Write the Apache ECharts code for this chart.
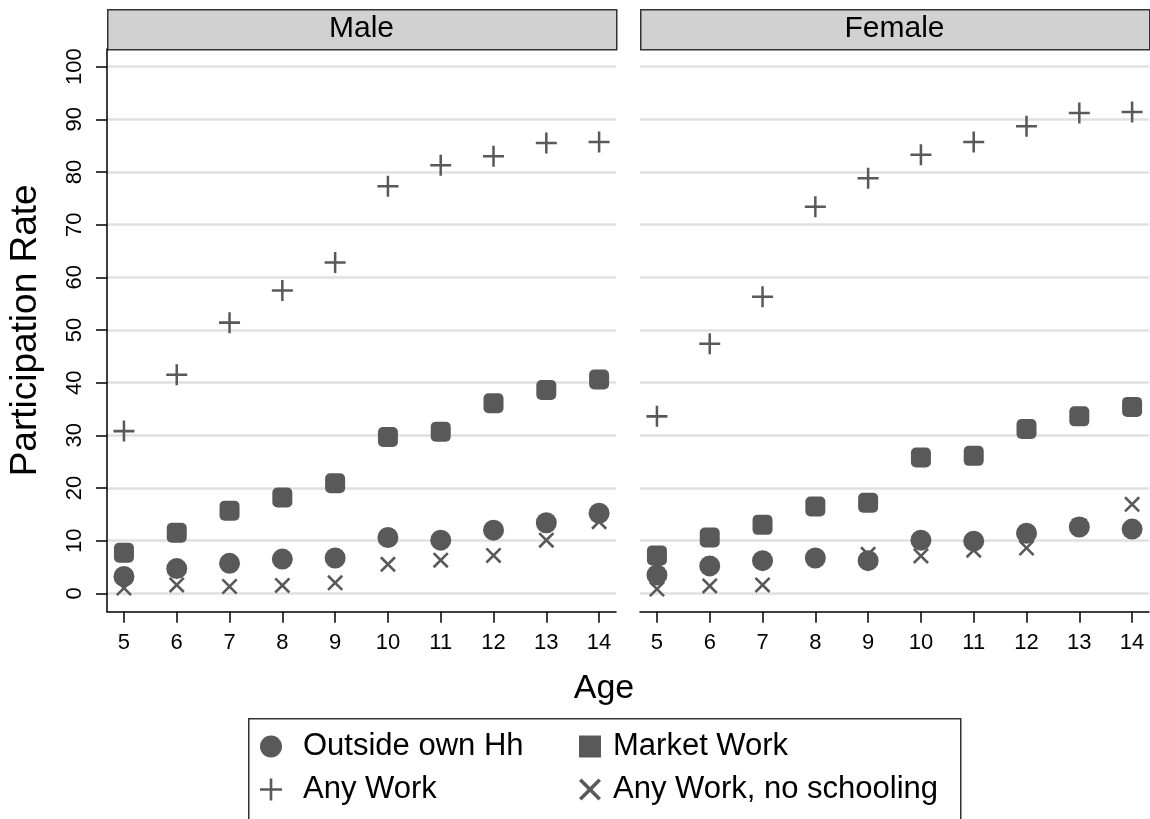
<!DOCTYPE html>
<html>
<head>
<meta charset="utf-8">
<script src="https://cdn.jsdelivr.net/npm/echarts@6/dist/echarts.min.js"></script>
<style>
  html, body { margin: 0; padding: 0; background: #fff; }
  #chart { width: 1150px; height: 819px; }
</style>
</head>
<body>
<div id="chart"></div>
<script>
// ages on the x axis, ticks on the y axis
const ages = [5, 6, 7, 8, 9, 10, 11, 12, 13, 14]
const yTicks = [0, 10, 20, 30, 40, 50, 60, 70, 80, 90, 100]
const panels = ['Male', 'Female']

// participation rates
const maleOutside = [3.2, 4.7, 5.7, 6.5, 6.7, 10.6, 10.1, 12.0, 13.4, 15.2]
const maleMarket = [7.7, 11.5, 15.7, 18.2, 20.9, 29.7, 30.7, 36.1, 38.6, 40.6]
const maleAnyWork = [30.8, 41.5, 51.4, 57.5, 62.8, 77.3, 81.3, 83.0, 85.5, 85.7]
const maleNoSchool = [1.0, 1.6, 1.3, 1.5, 2.0, 5.5, 6.3, 7.2, 10.1, 13.6]

const femaleOutside = [3.5, 5.2, 6.2, 6.7, 6.2, 10.1, 9.9, 11.4, 12.6, 12.2]
const femaleMarket = [7.2, 10.6, 13.0, 16.5, 17.2, 25.8, 26.1, 31.2, 33.6, 35.4]
const femaleAnyWork = [33.6, 47.4, 56.3, 73.4, 78.8, 83.3, 85.7, 88.7, 91.2, 91.4]
const femaleNoSchool = [0.8, 1.4, 1.6, 6.7, 7.4, 7.1, 8.2, 8.6, 12.8, 16.9]

const names = ['Outside own Hh', 'Market Work', 'Any Work', 'Any Work, no schooling']

const FONT = 'Liberation Sans, Arial, sans-serif'
const MARK = '#595959'
const SQUARE = 'path://M0,0H20V20H0Z'
const PLUS = 'path://M0,8.8H20V11.2H0Z M8.8,0H11.2V20H8.8Z'
const CROSS = 'path://M0,2.3L2.3,0L20,17.7L17.7,20Z M17.7,0L20,2.3L2.3,20L0,17.7Z'

const pair = vals => ages.map((a, i) => [a, vals[i]])

const chart = echarts.init(document.getElementById('chart'))

const gridLeft = [107, 640]
const gridWidth = 509

function xAxisFor(i) {
  return {
    gridIndex: i,
    type: 'value',
    min: 4.679,
    max: 14.32,
    axisLine: { show: true, onZero: false, lineStyle: { color: '#000', width: 1.5 } },
    axisTick: { show: true, length: 11, customValues: ages, lineStyle: { color: '#000', width: 1.5 } },
    axisLabel: { customValues: ages, fontSize: 22, color: '#000', margin: 20, fontFamily: FONT },
    splitLine: { show: false }
  }
}

function yAxisFor(i) {
  return {
    gridIndex: i,
    type: 'value',
    min: -3.49,
    max: 103.36,
    name: i === 0 ? 'Participation Rate' : '',
    nameLocation: 'middle',
    nameRotate: 90,
    nameGap: 63,
    nameTextStyle: { fontSize: 37, color: '#000', fontFamily: FONT },
    axisLine: { show: i === 0, lineStyle: { color: '#000', width: 1.5 } },
    axisTick: { show: i === 0, length: 11, customValues: yTicks, lineStyle: { color: '#000', width: 1.5 } },
    axisLabel: { show: i === 0, customValues: yTicks, rotate: 90, fontSize: 22, color: '#000', margin: 21, fontFamily: FONT },
    splitLine: { show: true, lineStyle: { color: '#e0e0e0', width: 2.5 } }
  }
}

function panelSeries(i, outside, market, anyWork, noSchool) {
  const base = { type: 'scatter', xAxisIndex: i, yAxisIndex: i, itemStyle: { color: MARK, opacity: 1 } }
  return [
    Object.assign({ name: names[3], symbol: CROSS, symbolSize: 16, data: pair(noSchool) }, base),
    Object.assign({ name: names[2], symbol: PLUS, symbolSize: 21, data: pair(anyWork) }, base),
    Object.assign({ name: names[1], symbol: 'roundRect', symbolSize: 20, data: pair(market) }, base),
    Object.assign({ name: names[0], symbol: 'circle', symbolSize: 21, data: pair(outside) }, base)
  ]
}

function legendCol(left, pad, items) {
  return {
    orient: 'vertical',
    left: left,
    top: 731,
    padding: 0,
    itemWidth: 22,
    itemHeight: 22,
    itemGap: 12,
    selectedMode: false,
    textStyle: { fontSize: 31, color: '#000', fontFamily: FONT, padding: [0, 0, 0, pad] },
    data: items
  }
}

// strip headers, the shared x title and the legend frame
const graphics = []
panels.forEach((p, i) => {
  graphics.push({
    type: 'rect', left: gridLeft[i], top: 9,
    shape: { width: gridWidth, height: 40 },
    style: { fill: '#d1d1d1', stroke: '#333', lineWidth: 1.5 }
  })
  graphics.push({
    type: 'text', x: gridLeft[i] + gridWidth / 2, y: 29,
    style: { text: p, fill: '#000', font: '30px ' + FONT, textAlign: 'center', textVerticalAlign: 'middle' }
  })
})
graphics.push({
  type: 'text', x: 604, y: 689,
  style: { text: 'Age', fill: '#000', font: '34px ' + FONT, textAlign: 'center', textVerticalAlign: 'middle' }
})
graphics.push({
  type: 'rect', left: 248, top: 718, z: -1,
  shape: { width: 712, height: 130 },
  style: { fill: '#fff', stroke: '#333', lineWidth: 1.5 }
})

chart.setOption({
  animation: false,
  backgroundColor: '#fff',
  grid: [
    { left: gridLeft[0], top: 49, width: gridWidth, height: 562.7 },
    { left: gridLeft[1], top: 49, width: gridWidth, height: 562.7 }
  ],
  xAxis: [xAxisFor(0), xAxisFor(1)],
  yAxis: [yAxisFor(0), yAxisFor(1)],
  legend: [
    legendCol(260, 16, [{ name: names[0], icon: 'circle' }, { name: names[2], icon: PLUS }]),
    legendCol(579, 7, [{ name: names[1], icon: SQUARE }, { name: names[3], icon: CROSS }])
  ],
  graphic: graphics,
  series: [
    ...panelSeries(0, maleOutside, maleMarket, maleAnyWork, maleNoSchool),
    ...panelSeries(1, femaleOutside, femaleMarket, femaleAnyWork, femaleNoSchool)
  ]
})
</script>
</body>
</html>
